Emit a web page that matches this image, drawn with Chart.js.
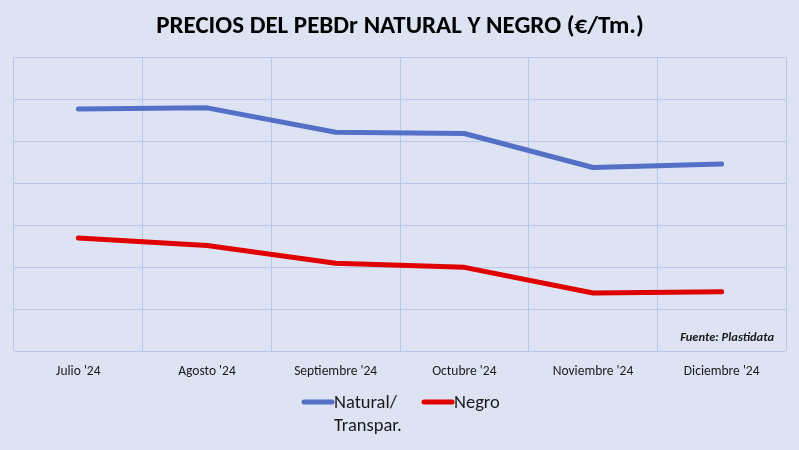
<!DOCTYPE html>
<html>
<head>
<meta charset="utf-8">
<script src="https://cdn.jsdelivr.net/npm/chart.js@4"></script>
<style>
  html, body { margin: 0; padding: 0; background: #dde3f3; }
  #wrap { width: 799px; height: 450px; position: relative; }
</style>
</head>
<body>
<div id="wrap"><canvas id="c" width="799" height="450"></canvas></div>
<script>
const categories = ["Julio '24", "Agosto '24", "Septiembre '24", "Octubre '24", "Noviembre '24", "Diciembre '24"];
const naturalValues = [1577, 1580, 1522, 1519, 1438, 1446];
const negroValues = [1270, 1252, 1210, 1200, 1139, 1142];
const seriesLabels = [["Natural/", "Transpar."], ["Negro"]];
const yMin = 1000, yMax = 1700, yStep = 100;

const FONT = "Carlito, Lato, 'Liberation Sans', sans-serif";

const legendPlugin = {
  id: 'customLegend',
  afterDraw(chart) {
    const ctx = chart.ctx;
    ctx.save();
    ctx.font = "18.5px " + FONT;
    ctx.textBaseline = 'middle';
    ctx.fillStyle = '#1a1a1a';
    const starts = [302, 422];
    const y0 = 402;
    chart.data.datasets.forEach((ds, i) => {
      const x = starts[i];
      ctx.strokeStyle = ds.borderColor;
      ctx.lineWidth = 5;
      ctx.lineCap = 'round';
      ctx.beginPath();
      ctx.moveTo(x + 2, y0);
      ctx.lineTo(x + 30, y0);
      ctx.stroke();
      const lines = seriesLabels[i];
      lines.forEach((t, k) => ctx.fillText(t, x + 32, y0 + 1 + k * 23));
    });
    ctx.restore();
  }
};

const sourcePlugin = {
  id: 'source',
  afterDraw(chart) {
    const ctx = chart.ctx, a = chart.chartArea;
    ctx.save();
    ctx.font = "italic bold 12.5px " + FONT;
    ctx.fillStyle = '#1a1a1a';
    ctx.textAlign = 'right';
    ctx.textBaseline = 'middle';
    ctx.fillText('Fuente: Plastidata', a.right - 12, a.bottom - 13);
    ctx.restore();
  }
};

const bgPlugin = {
  id: 'bg',
  beforeDraw(chart) {
    const ctx = chart.ctx;
    ctx.save();
    ctx.fillStyle = '#dde3f3';
    ctx.fillRect(0, 0, chart.width, chart.height);
    ctx.restore();
  }
};

new Chart(document.getElementById('c'), {
  type: 'line',
  data: {
    labels: categories,
    datasets: [
      { label: 'Natural/ Transpar.', data: naturalValues, borderColor: '#5470c6', borderWidth: 5, pointRadius: 0, tension: 0, borderCapStyle: 'round', borderJoinStyle: 'round' },
      { label: 'Negro', data: negroValues, borderColor: '#e00000', borderWidth: 5, pointRadius: 0, tension: 0, borderCapStyle: 'round', borderJoinStyle: 'round' }
    ]
  },
  options: {
    responsive: false,
    animation: false,
    devicePixelRatio: 1,
    layout: { padding: { left: 14, right: 13, top: 0, bottom: 58.5 } },
    plugins: {
      legend: { display: false },
      tooltip: { enabled: false },
      title: {
        display: true,
        text: 'PRECIOS DEL PEBDr NATURAL Y NEGRO (€/Tm.)',
        color: '#000000',
        font: { family: FONT, size: 25, weight: 'bold' },
        padding: { top: 12, bottom: 15.5 }
      }
    },
    scales: {
      x: {
        offset: true,
        grid: { offset: true, color: '#b7c8e8', lineWidth: 1, drawTicks: false },
        border: { display: false },
        ticks: { color: '#1a1a1a', font: { family: FONT, size: 13.5 }, padding: 12, maxRotation: 0, autoSkip: false }
      },
      y: {
        min: yMin, max: yMax,
        ticks: { display: false, stepSize: yStep },
        grid: { color: '#b7c8e8', lineWidth: 1, drawTicks: false },
        border: { display: false }
      }
    }
  },
  plugins: [bgPlugin, legendPlugin, sourcePlugin]
});
</script>
</body>
</html>
